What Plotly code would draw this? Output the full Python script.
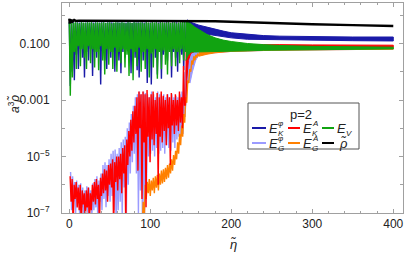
import numpy as np
import plotly.graph_objects as go

# ---------------- data (log10 of a^3 rho values) -------------
STEP = 1.25  # sampling step of the oscillating parts (eta units)

# E_V (green), early oscillating part: peaks / troughs at eta = 0, 1.25, 2.5, ...
ev_peak = [-0.26, -0.25, -0.27, -0.25, -0.26, -0.28, -0.25, -0.26,
           -0.27, -0.25, -0.26, -0.25, -0.28, -0.26, -0.25, -0.27,
           -0.26, -0.25, -0.27, -0.26, -0.25, -0.28, -0.26, -0.25,
           -0.26, -0.27, -0.25, -0.26, -0.28, -0.25, -0.26, -0.27,
           -0.25, -0.26, -0.27, -0.25, -0.26, -0.28, -0.25, -0.26,
           -0.27, -0.25, -0.26, -0.25, -0.28, -0.26, -0.25, -0.27,
           -0.26, -0.25, -0.27, -0.26, -0.25, -0.28, -0.26, -0.25,
           -0.24, -0.23]
ev_trough = [-2.85, -2.2, -1.3, -1.9, -1.1, -1.8, -1.2, -1.5,
             -1.9, -1.1, -1.7, -1.2, -1.85, -1.3, -1.95, -1.1,
             -1.6, -2.1, -1.2, -1.75, -1.3, -1.9, -1.15, -2.0,
             -1.3, -1.7, -1.2, -1.85, -1.4, -2.15, -1.2, -2.3,
             -1.3, -1.8, -1.15, -2.0, -1.3, -1.9, -1.2, -2.2,
             -1.35, -1.85, -1.2, -2.25, -1.3, -1.9, -1.25, -1.75,
             -2.1, -1.3, -1.8, -1.2, -1.8, -1.3, -1.7, -1.2,
             -1.6, -1.3]
# E_V late band
ev_late_eta = [144, 146, 150, 155, 160, 170, 180, 190, 200, 220, 240, 260, 300, 350, 400]
ev_late_hi = [-0.22, -0.24, -0.3, -0.42, -0.5, -0.68, -0.8, -0.88, -0.93, -1.0, -1.04, -1.07, -1.1, -1.12, -1.13]
ev_late_lo = [-1.6, -1.45, -1.3, -1.3, -1.3, -1.3, -1.3, -1.29, -1.28, -1.26, -1.24, -1.23, -1.21, -1.2, -1.19]

# E_K^phi (dark blue)
ekphi_peak = [-0.25, -0.26, -0.25, -0.27, -0.25, -0.26, -0.25, -0.27,
              -0.26, -0.25, -0.27, -0.25, -0.26, -0.25, -0.27, -0.26,
              -0.25, -0.26, -0.27, -0.25, -0.26, -0.25, -0.27, -0.26,
              -0.25, -0.26, -0.25, -0.27, -0.26, -0.25, -0.26, -0.27,
              -0.25, -0.26, -0.25, -0.27, -0.25, -0.26, -0.25, -0.27,
              -0.26, -0.25, -0.27, -0.25, -0.26, -0.25, -0.27, -0.26,
              -0.25, -0.26, -0.27, -0.25, -0.26, -0.25, -0.27, -0.26,
              -0.24, -0.23]
ekphi_trough = [-2.5, -2.0, -2.3, -1.4, -1.9, -1.2, -1.5, -2.2,
                -1.3, -1.6, -1.2, -2.15, -1.3, -1.5, -1.2, -2.45,
                -1.3, -1.6, -1.9, -1.2, -1.5, -1.3, -2.0, -1.25,
                -1.6, -2.05, -1.3, -1.5, -1.2, -1.4, -2.05, -1.3,
                -1.5, -1.95, -2.2, -1.3, -1.6, -1.25, -2.4, -1.3,
                -2.45, -1.3, -1.5, -2.1, -1.25, -2.25, -1.4, -1.3,
                -1.6, -1.2, -2.2, -1.3, -1.5, -2.0, -1.3, -1.4,
                -1.95, -1.2]
ekphi_late_eta = [144, 146, 150, 155, 160, 170, 180, 190, 200, 220, 240, 260, 300, 350, 400]
ekphi_late_hi = [-0.2, -0.17, -0.25, -0.3, -0.35, -0.42, -0.5, -0.56, -0.62, -0.68, -0.72, -0.74, -0.76, -0.77, -0.77]
ekphi_late_lo = [-1.3, -0.5, -0.48, -0.55, -0.6, -0.67, -0.72, -0.76, -0.8, -0.85, -0.87, -0.88, -0.89, -0.9, -0.91]

# E_K^A (red), early noisy part starting at eta = 1
eka_start = 1.0
eka_early = [-5.7, -6.6, -5.8, -7.5, -6.0, -6.5, -5.9, -6.8,
             -6.1, -6.9, -6.0, -7.6, -6.2, -6.7, -6.3, -7.4,
             -6.2, -6.8, -6.1, -7.5, -6.3, -6.9, -6.0, -6.6,
             -5.9, -6.7, -5.8, -6.5, -6.0, -7.5, -5.75, -6.4,
             -5.6, -6.3, -5.45, -6.2, -5.5, -6.6, -5.3, -6.0,
             -5.25, -6.1, -5.1, -7.6, -5.2, -5.9, -5.0, -6.2,
             -5.0, -5.8, -4.9, -6.3, -4.7, -5.6, -4.6, -7.6,
             -4.4, -5.3, -4.1, -5.0, -3.7, -4.8, -3.4, -4.5,
             -3.2, -4.2, -2.9, -5.5, -2.7, -4.0, -2.8, -6.5,
             -2.7, -4.5, -2.8, -6.8, -2.65, -4.3, -2.9, -5.2,
             -2.8, -4.4, -2.7, -4.6, -3.0, -4.2, -2.75, -6.0,
             -2.9, -4.3, -2.7, -4.5, -2.85, -4.1, -3.0, -4.6,
             -2.8, -4.0, -2.9, -5.3, -2.75, -3.9, -3.0, -4.2,
             -2.8, -3.9, -3.0, -4.1, -2.7, -3.8, -2.9, -4.0,
             -1.8, -3.2]
eka_late_eta = [143.5, 145, 147, 150, 155, 160, 170, 180, 200, 220, 240, 260, 300, 350, 400]
eka_late_hi = [-1.2, -0.95, -0.95, -1.0, -1.02, -1.03, -1.04, -1.05, -1.05, -1.04, -1.04, -1.04, -1.05, -1.06, -1.06]
eka_late_lo = [-3.2, -2.3, -1.6, -1.35, -1.28, -1.25, -1.22, -1.2, -1.18, -1.17, -1.16, -1.15, -1.14, -1.13, -1.13]

# E_G^phi (light blue)
egphi_start = 1.6
egphi_early = [-5.55, -6.9, -5.7, -6.6, -5.9, -7.0, -5.85, -6.5,
               -6.0, -7.1, -5.95, -6.8, -6.1, -7.5, -6.2, -6.9,
               -6.05, -7.0, -6.1, -6.7, -6.2, -7.2, -5.95, -6.9,
               -5.8, -6.8, -5.7, -7.5, -5.85, -6.6, -5.6, -6.9,
               -5.3, -6.5, -5.2, -6.8, -5.3, -6.4, -5.1, -6.6,
               -4.9, -6.4, -4.8, -6.9, -4.75, -7.5, -4.9, -6.9,
               -4.7, -6.6, -4.5, -7.1, -4.4, -6.1, -4.3, -7.4,
               -4.0, -6.0, -3.8, -5.6, -3.5, -5.2, -3.2, -4.9,
               -2.9, -5.6, -2.8, -7.0, -2.7, -6.2, -2.8, -7.5,
               -2.7, -7.3, -2.75, -6.0, -2.8, -5.0, -2.9, -4.9,
               -2.7, -4.8, -2.8, -5.0, -2.9, -4.7, -2.7, -4.9,
               -2.8, -4.8, -2.9, -4.7, -2.8, -4.9, -2.9, -4.6,
               -2.8, -4.7, -2.9, -4.8, -2.8, -4.5, -2.9, -4.7,
               -2.85, -4.4, -2.9, -4.3, -2.8, -4.3, -2.7, -4.2,
               -2.0, -3.6]
egphi_late_eta = [143, 145, 147, 149, 152, 156, 160, 170, 180, 200, 250, 300, 400]
egphi_late_hi = [-2.2, -1.6, -1.4, -1.35, -1.3, -1.28, -1.26, -1.24, -1.22, -1.2, -1.18, -1.17, -1.16]
egphi_late_lo = [-3.6, -2.6, -2.3, -2.4, -2.0, -1.6, -1.4, -1.35, -1.32, -1.28, -1.24, -1.22, -1.2]

# E_G^A (orange), starts at eta = 90
ega_start = 90.0
ega_early = [-7.5, -6.6, -7.3, -6.0, -6.5, -5.9, -6.3, -5.8,
             -6.4, -5.85, -6.2, -5.75, -6.3, -5.7, -6.1, -5.65,
             -6.2, -5.6, -6.0, -5.5, -5.95, -5.45, -5.9, -5.4,
             -5.8, -5.3, -5.75, -5.25, -5.6, -5.1, -5.5, -4.95,
             -5.3, -4.8, -5.1, -4.5, -4.9, -4.2, -4.6, -3.9,
             -4.3, -3.5, -3.8, -2.9, -3.1, -2.3, -2.4, -1.9,
             -2.0, -1.6, -1.75, -1.45, -1.6, -1.4, -1.5, -1.35,
             -1.45]
ega_late_eta = [160, 170, 180, 190, 200, 250, 300, 400]
ega_late_hi = [-1.32, -1.25, -1.2, -1.18, -1.17, -1.16, -1.15, -1.15]
ega_late_lo = [-1.45, -1.38, -1.33, -1.3, -1.28, -1.24, -1.22, -1.2]

# rho tilde (black)
rho_eta = [0, 0.6, 1.2, 2, 3, 4, 6, 8, 12, 20, 40, 60, 80, 100, 120, 145, 160, 180, 200, 250, 300, 350, 400]
rho_log = [-0.12, -0.3, -0.14, -0.26, -0.16, -0.22, -0.17, -0.2, -0.19, -0.19, -0.19, -0.19, -0.19,
           -0.19, -0.19, -0.19, -0.2, -0.21, -0.23, -0.28, -0.32, -0.35, -0.38]

x_ticks = [0, 100, 200, 300, 400]
y_tick_vals = [1e-7, 1e-5, 1e-3, 0.1]
y_tick_text = ["10<sup>\u22127</sup>", "10<sup>\u22125</sup>", "0.001", "0.100"]

C_KPHI = "#1a1aa8"
C_KA = "#ff0000"
C_V = "#11a311"
C_GPHI = "#9b9bff"
C_GA = "#ff8000"
C_RHO = "#000000"


# ---------------- helpers ----------------
def interleave(peaks, troughs):
    y = []
    for i in range(max(len(peaks), len(troughs))):
        if i < len(peaks):
            y.append(peaks[i])
        if i < len(troughs):
            y.append(troughs[i])
    return y


def zigzag_trace(start, logs, color, width=1.4):
    x = [start + STEP * i for i in range(len(logs))]
    return go.Scatter(x=x, y=[10 ** v for v in logs], mode="lines",
                      line=dict(color=color, width=width), hoverinfo="skip")


def band_trace(eta, hi, lo, color):
    x = list(eta) + list(eta)[::-1]
    y = [10 ** v for v in hi] + [10 ** v for v in lo][::-1]
    return go.Scatter(x=x, y=y, mode="lines", fill="toself", fillcolor=color,
                      line=dict(color=color, width=1), hoverinfo="skip")


fig = go.Figure()
# drawing order: light blue, orange, dark blue, red, green, black
fig.add_trace(zigzag_trace(egphi_start, egphi_early, C_GPHI))
fig.add_trace(band_trace(egphi_late_eta, egphi_late_hi, egphi_late_lo, C_GPHI))
fig.add_trace(zigzag_trace(ega_start, ega_early, C_GA))
fig.add_trace(band_trace(ega_late_eta, ega_late_hi, ega_late_lo, C_GA))
fig.add_trace(zigzag_trace(0.0, interleave(ekphi_peak, ekphi_trough), C_KPHI))
fig.add_trace(band_trace(ekphi_late_eta, ekphi_late_hi, ekphi_late_lo, C_KPHI))
fig.add_trace(zigzag_trace(eka_start, eka_early, C_KA))
fig.add_trace(band_trace(eka_late_eta, eka_late_hi, eka_late_lo, C_KA))
fig.add_trace(zigzag_trace(0.0, interleave(ev_peak, ev_trough), C_V))
fig.add_trace(band_trace(ev_late_eta, ev_late_hi, ev_late_lo, C_V))
fig.add_trace(go.Scatter(x=rho_eta, y=[10 ** v for v in rho_log], mode="lines",
                         line=dict(color=C_RHO, width=2.4), hoverinfo="skip"))

# ---------------- layout ----------------
W, H = 409, 256
L, R, T, B = 62, 6, 3, 43
PW, PH = W - L - R, H - T - B


def px(xp):
    return (xp - L) / PW


def py(yp):
    return (H - B - yp) / PH


def text_at(xp, yp, text, size, xanchor="center", angle=0):
    return dict(x=px(xp), y=py(yp), xref="paper", yref="paper", showarrow=False,
                xanchor=xanchor, yanchor="middle", text=text, textangle=angle,
                borderpad=0, font=dict(size=size, color="#222"))


FRAME = "#a0a0a0"
fig.update_layout(
    width=W, height=H, margin=dict(l=L, r=R, t=T, b=B, autoexpand=False),
    paper_bgcolor="white", plot_bgcolor="white", showlegend=False,
    font=dict(family="Liberation Sans, Arial, sans-serif", size=12, color="#222222"),
    xaxis=dict(range=[-9, 412], tickvals=x_ticks, ticks="inside", ticklen=4,
               tickcolor=FRAME, showline=True, linecolor=FRAME, linewidth=1,
               mirror="ticks", showgrid=False, zeroline=False, ticklabelstandoff=0,
               automargin=False,
               minor=dict(tickvals=[v for v in range(20, 400, 20) if v % 100],
                          ticks="inside", ticklen=2, tickcolor=FRAME, showgrid=False)),
    yaxis=dict(type="log", range=[-7, 0.434], tickvals=y_tick_vals, ticktext=y_tick_text,
               ticks="inside", ticklen=4, tickcolor=FRAME, showline=True, linecolor=FRAME,
               linewidth=1, mirror="ticks", showgrid=False, zeroline=False,
               ticklabelstandoff=9, automargin=False,
               minor=dict(tickvals=[1e-6, 1e-4, 1e-2, 1], ticks="inside", ticklen=3,
                          tickcolor=FRAME, showgrid=False)),
)

ann = []
# axis titles
ann.append(text_at(233, 245, "<i>\u03b7\u0303</i>", 13))
ann.append(text_at(14, 104, "<i>a</i><sup>3</sup><i>\u03c1\u0303</i>", 12, angle=-90))

# legend box
shapes = [dict(type="rect", xref="paper", yref="paper", x0=px(248), x1=px(359),
               y0=py(103), y1=py(149), line=dict(color="#555555", width=1),
               fillcolor="white", layer="above")]
ann.append(text_at(301, 114, "p=2", 13))

entries = [
    (252, 266, 128, C_KPHI, 273, "\u03c6", "K"),
    (288, 300, 128, C_KA, 307, "A", "K"),
    (322, 334, 128, C_V, 341, None, "V"),
    (252, 266, 143, C_GPHI, 273, "\u03c6", "G"),
    (288, 300, 143, C_GA, 307, "A", "G"),
]
for x0, x1, yy, col, ex, sup, sub in entries:
    shapes.append(dict(type="line", xref="paper", yref="paper", x0=px(x0), x1=px(x1),
                       y0=py(yy), y1=py(yy), line=dict(color=col, width=2), layer="above"))
    ann.append(text_at(ex, yy, "<i>E</i>", 13))
    if sup:
        ann.append(text_at(ex + 4, yy - 5, "<i>%s</i>" % sup, 8, xanchor="left"))
    ann.append(text_at(ex + 4, yy + 5, "<i>%s</i>" % sub, 8, xanchor="left"))
# rho entry
shapes.append(dict(type="line", xref="paper", yref="paper", x0=px(322), x1=px(334),
                   y0=py(143), y1=py(143), line=dict(color=C_RHO, width=2), layer="above"))
ann.append(text_at(343, 143, "<i>\u03c1\u0303</i>", 13))

fig.update_layout(shapes=shapes, annotations=ann)
fig.write_html("out.html", config={"displayModeBar": False},
               post_script="document.body.style.margin='0';document.body.style.padding='0';")
